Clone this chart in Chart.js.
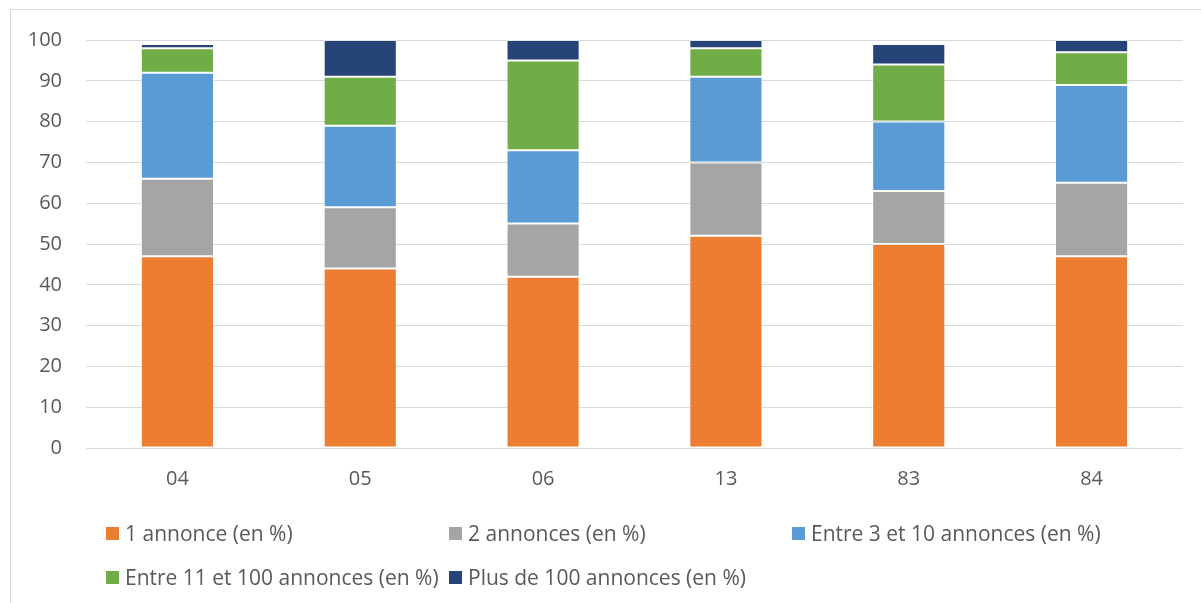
<!DOCTYPE html>
<html>
<head>
<meta charset="utf-8">
<script src="https://cdn.jsdelivr.net/npm/chart.js@4/dist/chart.umd.min.js"></script>
<style>
  html, body { margin: 0; padding: 0; background: #fff; overflow: hidden; }
  #frame {
    position: absolute; left: 10px; top: 9px; width: 1300px; height: 700px;
    border-left: 1px solid #d9d9d9; border-top: 1px solid #d9d9d9;
  }
  #wrap { position: absolute; left: 0; top: 0; width: 1201px; height: 603px; }
  #legend {
    position: absolute; left: 106px; top: 520px;
    display: grid; grid-template-columns: 343px 343px 343px; row-gap: 18px;
    font-family: "Open Sans", sans-serif; font-size: 21px; color: #595959;
  }
  .item { display: flex; align-items: center; height: 26px; white-space: nowrap; }
  .box { width: 13px; height: 13px; margin-right: 6px; flex: none; }
</style>
</head>
<body>
<div id="frame"></div>
<div id="wrap"><canvas id="chart" width="1201" height="603"></canvas></div>
<div id="legend"></div>
<script>
// ---------- data ----------
const CATEGORIES = ["04", "05", "06", "13", "83", "84"];
const SERIES_NAMES = [
  "1 annonce (en %)",
  "2 annonces (en %)",
  "Entre 3 et 10 annonces (en %)",
  "Entre 11 et 100 annonces (en %)",
  "Plus de 100 annonces (en %)"
];
const UNE      = [47, 44, 42, 52, 50, 47];
const DEUX     = [19, 15, 13, 18, 13, 18];
const TROIS_10 = [26, 20, 18, 21, 17, 24];
const ONZE_100 = [6, 12, 22, 7, 14, 8];
const PLUS_100 = [1, 9, 5, 2, 5, 3];
const Y_TICKS  = [0, 10, 20, 30, 40, 50, 60, 70, 80, 90, 100];

const COLORS = ["#ED7D31", "#A5A5A5", "#5B9BD5", "#70AD47", "#264478"];
const TEXT = "#595959";
const GRID = "#d9d9d9";
const FONT = { family: "'Open Sans', sans-serif", size: 20 };

const values = [UNE, DEUX, TROIS_10, ONZE_100, PLUS_100];

const datasets = values.map((v, i) => ({
  label: SERIES_NAMES[i],
  data: v,
  backgroundColor: COLORS[i],
  borderColor: "rgba(255,255,255,0.3)",
  borderWidth: 1,
  borderSkipped: false,
  barPercentage: 0.4,
  categoryPercentage: 1.0,
}));

new Chart(document.getElementById("chart"), {
  type: "bar",
  data: { labels: CATEGORIES, datasets },
  options: {
    responsive: false,
    animation: false,
    layout: { padding: { left: 0, right: 18, top: 40, bottom: 105 } },
    plugins: { legend: { display: false }, tooltip: { enabled: false } },
    scales: {
      x: {
        stacked: true,
        grid: { display: false, drawTicks: false },
        border: { display: false },
        ticks: { color: TEXT, font: FONT, padding: 19, maxRotation: 0 },
        afterFit: (s) => { s.height = 50; },
      },
      y: {
        stacked: true,
        min: 0, max: 100,
        afterBuildTicks: (s) => { s.ticks = Y_TICKS.map(v => ({ value: v })); },
        grid: { color: GRID, lineWidth: 1, drawTicks: false },
        border: { display: false },
        ticks: { color: TEXT, font: FONT, padding: 24 },
        afterFit: (s) => { s.width = 86; },
      }
    }
  }
});

// ---------- legend (Excel-style grid) ----------
const legend = document.getElementById("legend");
SERIES_NAMES.forEach((name, i) => {
  const it = document.createElement("div");
  it.className = "item";
  const b = document.createElement("span");
  b.className = "box";
  b.style.background = COLORS[i];
  const t = document.createElement("span");
  t.textContent = name;
  it.appendChild(b); it.appendChild(t);
  legend.appendChild(it);
});
</script>
</body>
</html>
